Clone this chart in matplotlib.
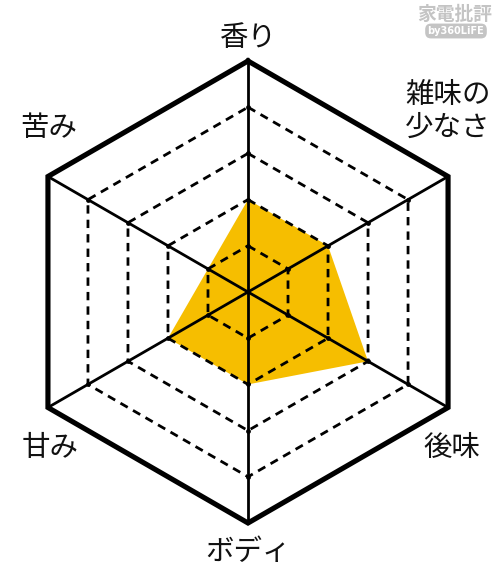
import numpy as np
import matplotlib
matplotlib.use("Agg")
import matplotlib.pyplot as plt

categories = ["香り", "雑味の\n少なさ", "後味", "ボディ", "甘み", "苦み"]
values = [2, 2, 3, 2, 2, 1]
max_value = 5
levels = [1, 2, 3, 4]

plt.rcParams['font.family'] = ['Noto Sans CJK JP', 'DejaVu Sans']

W, H = 500, 583
cx, cy, R = 248, 292, 231
scale = R / max_value

fig = plt.figure(figsize=(W / 100, H / 100), dpi=100)
ax = fig.add_axes([0, 0, 1, 1])
ax.set_xlim(-cx / scale, (W - cx) / scale)
ax.set_ylim(-(H - cy) / scale, cy / scale)
ax.set_aspect('equal')
ax.axis('off')

n = len(categories)
theta = np.arange(n) * 2 * np.pi / n


def xy(r, t):
    return np.asarray(r) * np.sin(t), np.asarray(r) * np.cos(t)


tc = np.append(theta, theta[0])

# data fill
vx, vy = xy(np.append(values, values[0]), tc)
ax.fill(vx, vy, color='#F6BE00', zorder=1, lw=0)

# dashed rings
for lv in levels:
    gx, gy = xy(np.full(n + 1, lv), tc)
    ax.plot(gx, gy, color='black', lw=2.0, ls=(0, (3.0, 2.2)), zorder=2)
    px, py = xy(np.full(n, lv), theta)
    ax.scatter(px, py, s=12, color='black', zorder=3, lw=0)

# spokes
for t in theta:
    sx, sy = xy([0, max_value], t)
    ax.plot(sx, sy, color='black', lw=2.0, zorder=3)

# outer hexagon
ox, oy = xy(np.full(n + 1, max_value), tc)
ax.plot(ox, oy, color='black', lw=3.7, solid_joinstyle='miter', zorder=4)

# labels (pixel positions converted to data units)
label_pos = [(248, 38, 'center'), (405, 111, 'left'), (452, 448, 'center'),
             (248, 552, 'center'), (50, 448, 'center'), (49, 128, 'center')]
for lab, (px, py, ha) in zip(categories, label_pos):
    ax.text((px - cx) / scale, (cy - py) / scale, lab, fontsize=20.5,
            ha=ha, va='center', linespacing=1.12, color='#111111')

# watermark
ax.text((455 - cx) / scale, (cy - 14) / scale, "家電批評", fontsize=13.5,
        ha='center', va='center', color='#c4c4c4', fontweight='bold')
ax.text((456 - cx) / scale, (cy - 31) / scale, "by360LiFE", fontsize=7,
        ha='center', va='center', color='white', fontweight='bold',
        family=['DejaVu Sans'],
        bbox=dict(boxstyle='round,pad=0.25,rounding_size=0.6', fc='#c4c4c4', ec='none'))

fig.savefig('out.png', dpi=100)
